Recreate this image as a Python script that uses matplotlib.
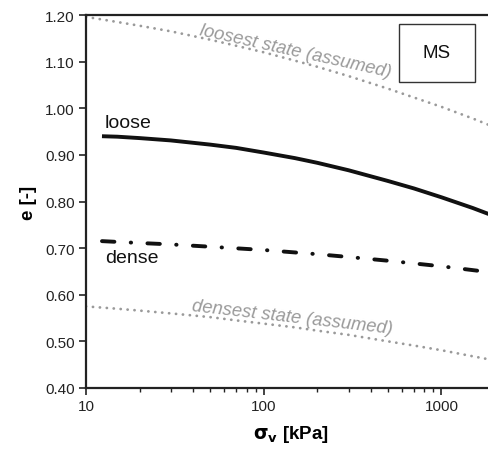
import matplotlib
matplotlib.use("Agg")
import matplotlib.pyplot as plt
from matplotlib.patches import Rectangle
from matplotlib.ticker import FixedLocator, NullFormatter, FixedFormatter

plt.rcParams['font.family'] = ['Liberation Sans', 'DejaVu Sans']

# data
sigma_loosest = [10, 15, 20, 30, 50, 70, 100, 150, 200, 300, 500, 700, 1000, 1500, 2000]
e_loosest = [1.196, 1.185, 1.177, 1.165, 1.147, 1.134, 1.120, 1.102, 1.089, 1.069,
             1.042, 1.023, 1.003, 0.978, 0.959]

sigma_loose = [12.3, 15, 20, 30, 50, 70, 100, 150, 200, 300, 500, 700, 1000, 1500, 2000]
e_loose = [0.940, 0.939, 0.936, 0.931, 0.922, 0.915, 0.905, 0.893, 0.883, 0.867,
           0.844, 0.828, 0.809, 0.786, 0.768]

sigma_dense = [12.3, 20, 30, 50, 100, 200, 300, 500, 1000, 2000]
e_dense = [0.715, 0.711, 0.708, 0.703, 0.696, 0.687, 0.681, 0.673, 0.661, 0.647]

sigma_densest = [10, 15, 20, 30, 50, 70, 100, 150, 200, 300, 500, 700, 1000, 1500, 2000]
e_densest = [0.575, 0.570, 0.566, 0.560, 0.552, 0.545, 0.538, 0.530, 0.523, 0.514,
             0.500, 0.491, 0.481, 0.468, 0.459]

x_ticks = [10, 100, 1000]
x_ticklabels = ['10', '100', '1000']
y_ticks = [0.40, 0.50, 0.60, 0.70, 0.80, 0.90, 1.00, 1.10, 1.20]
y_ticklabels = ['0.40', '0.50', '0.60', '0.70', '0.80', '0.90', '1.00', '1.10', '1.20']

W, H = 489, 452
fig = plt.figure(figsize=(W / 100, H / 100), dpi=100)
ax = fig.add_axes([86 / W, 1 - 389 / H, (495 - 86) / W, (389 - 16) / H])

grey = '#9a9a9a'
dark = '#111111'
ax.plot(sigma_loosest, e_loosest, color=grey, lw=2.0, linestyle=(0, (0.05, 2.45)),
        dash_capstyle='round')
ax.plot(sigma_densest, e_densest, color=grey, lw=2.0, linestyle=(0, (0.05, 2.45)),
        dash_capstyle='round')
ax.plot(sigma_loose, e_loose, color=dark, lw=2.8, solid_capstyle='butt')
ax.plot(sigma_dense, e_dense, color=dark, lw=2.8,
        linestyle=(0, (3.2, 4.2, 0.1, 4.2)), dash_capstyle='round')

ax.set_xscale('log')
ax.set_xlim(10, 2000)
ax.set_ylim(0.40, 1.20)
ax.xaxis.set_major_locator(FixedLocator(x_ticks))
ax.xaxis.set_major_formatter(FixedFormatter(x_ticklabels))
ax.xaxis.set_minor_formatter(NullFormatter())
ax.yaxis.set_major_locator(FixedLocator(y_ticks))
ax.yaxis.set_major_formatter(FixedFormatter(y_ticklabels))

ax.tick_params(axis='both', which='major', direction='out', length=5, width=1.2,
               labelsize=11, colors='#222222', pad=3)
ax.tick_params(axis='x', which='minor', direction='out', length=3, width=1.0, colors='#222222')
for s in ax.spines.values():
    s.set_linewidth(1.6)
    s.set_color('#222222')

ax.set_xlabel(r'$\mathbf{\sigma_v}$ [kPa]', fontsize=13.5, fontweight='bold', labelpad=7)
ax.set_ylabel('e [-]', fontsize=13.5, fontweight='bold', labelpad=6)

ax.text(12.8, 0.952, 'loose', fontsize=14, color=dark, ha='left', va='bottom')
ax.text(12.8, 0.699, 'dense', fontsize=14, color=dark, ha='left', va='top')

ax.text(0.512, 0.905, 'loosest state (assumed)', transform=ax.transAxes, fontsize=13.2,
        style='italic', color=grey, rotation=-12.5, ha='center', va='center')
ax.text(0.505, 0.19, 'densest state (assumed)', transform=ax.transAxes, fontsize=13.2,
        style='italic', color=grey, rotation=-6.5, ha='center', va='center')

fig.patches.append(Rectangle((399 / W, 1 - 83 / H), 76 / W, 58 / H, transform=fig.transFigure,
                             facecolor='white', edgecolor='#333333', linewidth=1.0, zorder=5))
fig.text(437 / W, 1 - 54 / H, 'MS', fontsize=13.5, ha='center', va='center', color=dark, zorder=6)

fig.savefig('out.png', dpi=100)
